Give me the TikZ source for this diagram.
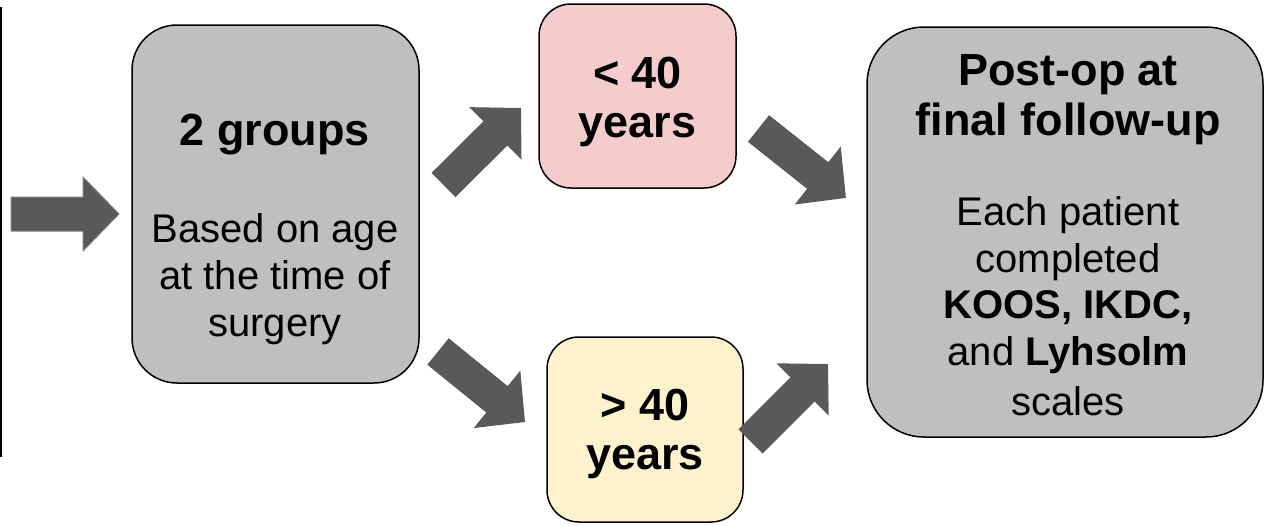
\documentclass[tikz,border=0pt]{standalone}
\usepackage{fontspec}
\setmainfont{Liberation Sans}
\usetikzlibrary{calc}
\definecolor{boxgray}{HTML}{BFBFBF}
\definecolor{boxpink}{HTML}{F4CCCC}
\definecolor{boxyellow}{HTML}{FFF2CC}
\definecolor{arrowfill}{HTML}{595959}
\definecolor{arrowedge}{HTML}{808080}
\newcommand\blockarrow[3][]{%
  \fill[arrowfill,#1] let \p1=($(#3)-(#2)$), \n1={atan2(\y1,\x1)}, \n2={veclen(\x1,\y1)} in
    [shift={(#2)},rotate=\n1] (0,-17) -- ({\n2-36},-17) -- ({\n2-36},-37) -- ({\n2},0)
    -- ({\n2-36},37) -- ({\n2-36},17) -- (0,17) -- cycle;}
\begin{document}
\begin{tikzpicture}[x=1pt,y=-1pt,
  stepbox/.style={draw=black,line width=1.5pt,inner sep=0pt},
  title/.style={anchor=base,inner sep=0pt,font=\fontsize{45}{50}\selectfont\bfseries},
  body/.style={anchor=base,inner sep=0pt,font=\fontsize{40}{47}\selectfont}]
\useasboundingbox (0,0) rectangle (1268,525);
% cut-off box on the left
\draw[line width=1.5pt] (1,7) -- (1,457);
% boxes
\node[stepbox,fill=boxgray,rounded corners=45pt,minimum width=287pt,minimum height=358pt] (grp) at (275.5,204) {};
\node[stepbox,fill=boxpink,rounded corners=32pt,minimum width=197pt,minimum height=184pt] (young) at (637.5,96) {};
\node[stepbox,fill=boxyellow,rounded corners=32pt,minimum width=196pt,minimum height=185pt] (old) at (645,429.5) {};
\node[stepbox,fill=boxgray,rounded corners=57pt,minimum width=396pt,minimum height=410pt] (post) at (1065,232) {};
% texts
\node[title] (g1) at (275,145) {2 groups};
\node[body] (g2) at (275,242) {Based on age};
\node[body] (g3) at (275,289) {at the time of};
\node[body] (g4) at (275,336) {surgery};
\node[title] (y1) at (637.5,88) {< 40};
\node[title] (y2) at (637.5,137) {years};
\node[title] (o1) at (645,420) {> 40};
\node[title] (o2) at (645,469) {years};
\node[title] (p1) at (1068,85) {Post-op at};
\node[title] (p2) at (1068,135) {final follow-up};
\node[body] (p3) at (1068,225) {Each patient};
\node[body] (p4) at (1068,272) {completed};
\node[body] (p5) at (1068,318) {\textbf{KOOS, IKDC,}};
\node[body] (p6) at (1068,365) {and \textbf{Lyhsolm}};
\node[body] (p7) at (1068,415) {scales};
% arrow end points
\coordinate (l0) at (11,214);   \coordinate (l1) at (119,214);
\coordinate (a0) at (443.5,185); \coordinate (a1) at (521,108);
\coordinate (b0) at (438,351.5); \coordinate (b1) at (525,422);
\coordinate (c0) at (758.5,128.5); \coordinate (c1) at (846,198);
\coordinate (d0) at (750.5,441.5); \coordinate (d1) at (828,364);
\blockarrow[draw=arrowedge,line width=1pt]{l0}{l1}
\blockarrow{a0}{a1}
\blockarrow{b0}{b1}
\blockarrow{c0}{c1}
\blockarrow{d0}{d1}
\end{tikzpicture}
\end{document}
